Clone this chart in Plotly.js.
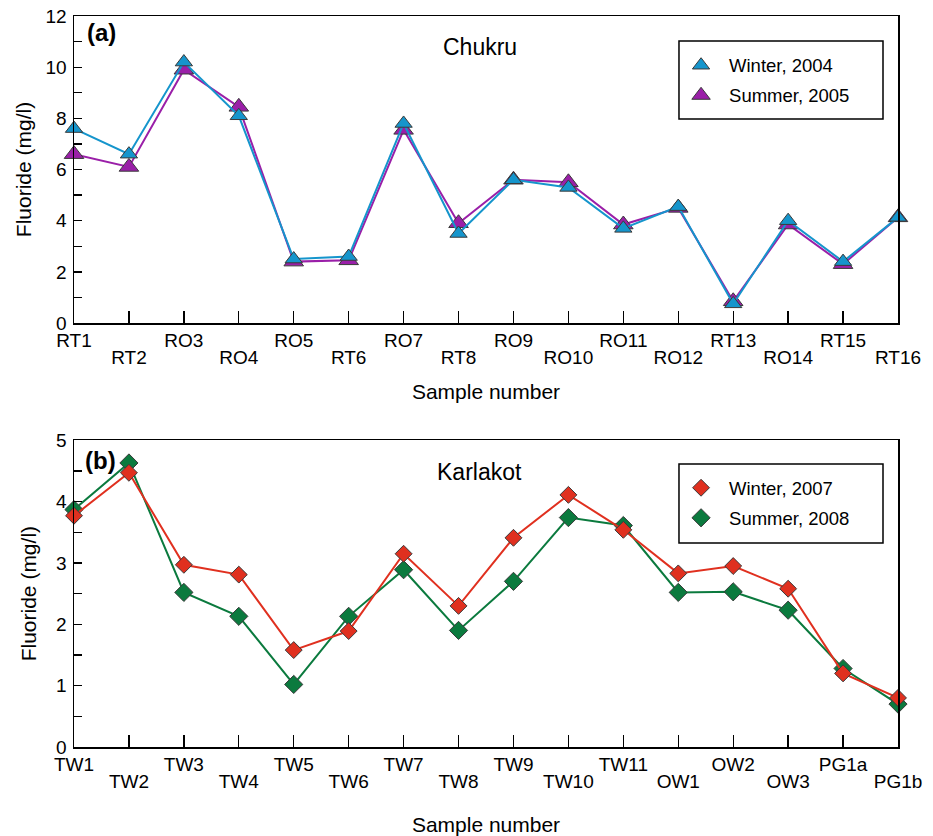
<!DOCTYPE html>
<html>
<head>
<meta charset="utf-8">
<script src="https://cdn.plot.ly/plotly-3.0.1.min.js"></script>
<style>
  html, body { margin: 0; padding: 0; background: #fff; }
  #chart { width: 933px; height: 836px; }
</style>
</head>
<body>
<div id="chart"></div>
<script>
// Fluoride concentrations (mg/l) at the sampling points of two areas

// (a) Chukru
const chukruSamples = ['RT1', 'RT2', 'RO3', 'RO4', 'RO5', 'RT6', 'RO7', 'RT8',
                       'RO9', 'RO10', 'RO11', 'RO12', 'RT13', 'RO14', 'RT15', 'RT16'];
const chukruWinter2004 = [7.6, 6.6, 10.2, 8.1, 2.5, 2.6, 7.8, 3.5,
                          5.6, 5.3, 3.7, 4.55, 0.75, 4.0, 2.4, 4.13];
const chukruSummer2005 = [6.6, 6.1, 9.9, 8.45, 2.4, 2.45, 7.55, 3.9,
                          5.6, 5.5, 3.85, 4.5, 0.85, 3.85, 2.3, 4.13];

// (b) Karlakot
const karlakotSamples = ['TW1', 'TW2', 'TW3', 'TW4', 'TW5', 'TW6', 'TW7', 'TW8',
                         'TW9', 'TW10', 'TW11', 'OW1', 'OW2', 'OW3', 'PG1a', 'PG1b'];
const karlakotWinter2007 = [3.77, 4.47, 2.97, 2.81, 1.58, 1.89, 3.15, 2.30,
                            3.41, 4.11, 3.54, 2.83, 2.95, 2.58, 1.20, 0.80];
const karlakotSummer2008 = [3.87, 4.63, 2.52, 2.13, 1.02, 2.13, 2.89, 1.90,
                            2.70, 3.74, 3.61, 2.52, 2.53, 2.23, 1.28, 0.70];

const FONT = 'Liberation Sans, Arial, Helvetica, sans-serif';
const OUTLINE = '#3a3a3a';
const BLACK = '#000';

// one connecting line plus a marker-only trace that carries the legend entry
function series(x, y, name, color, symbol, size, xa, ya, legend, rank) {
  const line = {
    type: 'scatter', mode: 'lines', x: x, y: y, name: name,
    xaxis: xa, yaxis: ya, showlegend: false, hoverinfo: 'skip',
    line: { color: color, width: 2 }
  };
  const marks = {
    type: 'scatter', mode: 'markers', x: x, y: y, name: name,
    xaxis: xa, yaxis: ya, legend: legend, legendrank: rank, legendgroup: name,
    marker: { symbol: symbol, size: size, color: color,
              line: { color: OUTLINE, width: 1 } },
    cliponaxis: false
  };
  return [line, marks];
}

// summer series live on the base x axes, winter series on the overlaid ones,
// so winter is drawn on top
const traces = [].concat(
  series(chukruSamples, chukruSummer2005, 'Summer, 2005', '#9a1fa8', 'triangle-up', 17, 'x', 'y', 'legend', 2),
  series(chukruSamples, chukruWinter2004, 'Winter, 2004', '#1595cc', 'triangle-up', 15, 'x3', 'y', 'legend', 1),
  series(karlakotSamples, karlakotSummer2008, 'Summer, 2008', '#0b7a3e', 'diamond', 14, 'x2', 'y2', 'legend2', 2),
  series(karlakotSamples, karlakotWinter2007, 'Winter, 2007', '#e0301f', 'diamond', 13, 'x4', 'y2', 'legend2', 1)
);

const TICKFONT = { family: FONT, size: 19, color: BLACK };
const TITLEFONT = { family: FONT, size: 21, color: BLACK };

// sample labels are staggered over two rows: the base axis labels the
// even positions, the overlaid axis labels the odd ones one row lower
const pick = (arr, parity) => arr.filter((_, i) => i % 2 === parity);

function xAxis(samples, anchor, standoff) {
  return {
    type: 'category', anchor: anchor, domain: [0, 1],
    range: [0, samples.length - 1],
    tickmode: 'array', tickvals: samples, ticktext: samples.map((s, i) => (i % 2 ? '' : s)),
    ticks: 'inside', ticklen: 12, tickwidth: 1.3, tickcolor: BLACK,
    showline: true, mirror: true, linecolor: BLACK, linewidth: 1.5,
    showgrid: false, zeroline: false,
    tickfont: TICKFONT, ticklabelstandoff: 0,
    title: { text: 'Sample number', font: TITLEFONT, standoff: standoff },
    automargin: false
  };
}

function lowerRow(samples, overlaying, anchor) {
  return {
    type: 'category', overlaying: overlaying, anchor: anchor,
    range: [0, samples.length - 1],
    tickmode: 'array', tickvals: pick(samples, 1), ticktext: pick(samples, 1),
    ticks: '', showline: false, showgrid: false, zeroline: false,
    tickfont: TICKFONT, ticklabelstandoff: 21,
    automargin: false
  };
}

function yAxis(max, major, minor, domain, anchor, standoff) {
  return {
    anchor: anchor, domain: domain,
    range: [0, max], tick0: 0, dtick: major,
    ticks: 'inside', ticklen: 8, tickwidth: 1.3, tickcolor: BLACK,
    minor: { dtick: minor, ticks: 'inside', ticklen: 8, tickwidth: 1.3, tickcolor: BLACK, showgrid: false },
    showline: true, mirror: true, linecolor: BLACK, linewidth: 1.5,
    showgrid: false, zeroline: false,
    tickfont: TICKFONT, ticklabelstandoff: 2,
    title: { text: 'Fluoride (mg/l)', font: TITLEFONT, standoff: standoff },
    automargin: false
  };
}

function legendBox(yTop) {
  return {
    x: 0.727, y: yTop, xanchor: 'left', yanchor: 'top',
    bgcolor: 'rgba(0,0,0,0)', borderwidth: 0,
    font: { family: FONT, size: 18.5, color: BLACK },
    tracegroupgap: 3, itemwidth: 46
  };
}

function frame(x0, x1, y0, y1) {
  return { type: 'rect', xref: 'paper', yref: 'paper', x0: x0, x1: x1, y0: y0, y1: y1,
           line: { color: BLACK, width: 1.5 }, fillcolor: 'rgba(0,0,0,0)', layer: 'above' };
}

function label(text, x, y, size, anchor) {
  return { text: text, xref: 'paper', yref: 'paper', x: x, y: y,
           xanchor: anchor, yanchor: 'middle', showarrow: false,
           font: { family: FONT, size: size, color: BLACK } };
}

const layout = {
  width: 933, height: 836,
  margin: { l: 74, r: 35, t: 16, b: 89 },
  paper_bgcolor: '#fff', plot_bgcolor: '#fff',
  showlegend: true,
  xaxis: xAxis(chukruSamples, 'y', 34),
  xaxis3: lowerRow(chukruSamples, 'x', 'y'),
  yaxis: yAxis(12, 2, 1, [0.58, 1], 'x', 8),
  xaxis2: xAxis(karlakotSamples, 'y2', 44),
  xaxis4: lowerRow(karlakotSamples, 'x2', 'y2'),
  yaxis2: yAxis(5, 1, 0.5, [0, 0.4196], 'x2', 14),
  legend: legendBox(0.958),
  legend2: legendBox(0.380),
  shapes: [
    frame(0.7342, 0.9818, 0.8591, 0.9658),
    frame(0.7342, 0.9818, 0.2791, 0.3871)
  ],
  annotations: [
    label('<b>(a)</b>', 0.013, 0.977, 24, 'left'),
    label('Chukru', 0.4927, 0.957, 23, 'center'),
    label('<b>(b)</b>', 0.011, 0.3926, 24, 'left'),
    label('Karlakot', 0.4927, 0.376, 23, 'center')
  ]
};

Plotly.newPlot('chart', traces, layout, { displayModeBar: false, staticPlot: true });
</script>
</body>
</html>
